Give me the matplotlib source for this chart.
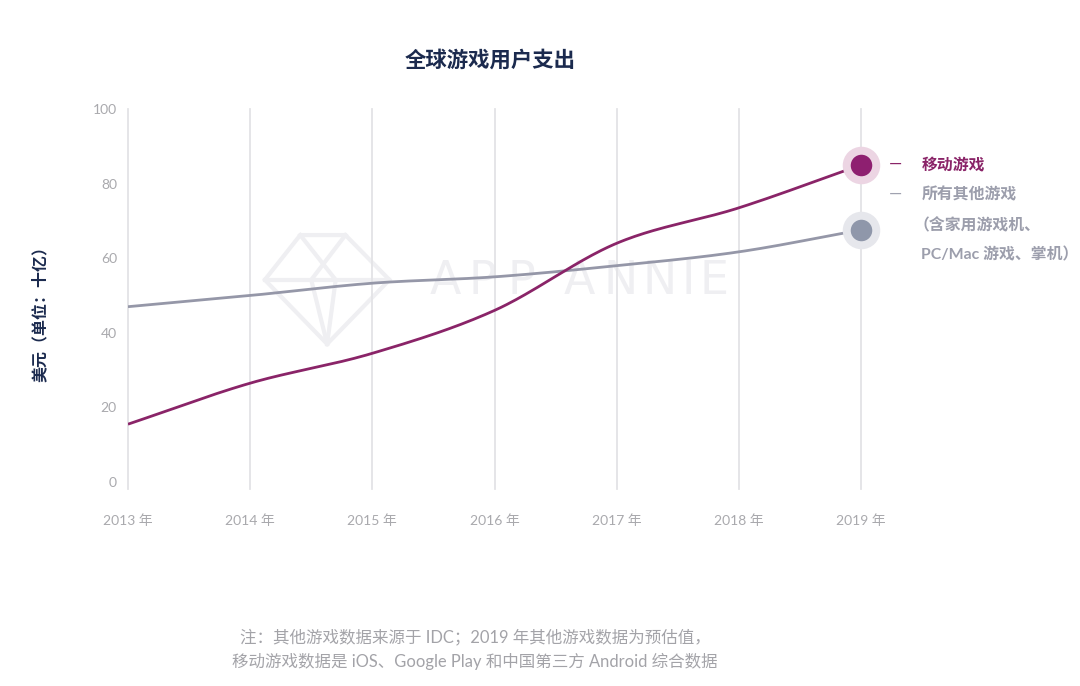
import numpy as np
import matplotlib
matplotlib.use("Agg")
import matplotlib.pyplot as plt
from matplotlib.patches import Polygon

plt.rcParams['font.family'] = ['Lato', 'Noto Sans CJK SC', 'DejaVu Sans']

years = [2013, 2014, 2015, 2016, 2017, 2018, 2019]
year_labels = ["2013 年", "2014 年", "2015 年", "2016 年", "2017 年", "2018 年", "2019 年"]
mobile = [15.5, 26.5, 34.5, 46.0, 64.0, 73.5, 85.0]
other = [47.0, 50.0, 53.3, 55.0, 58.0, 61.7, 67.6]
yticks = [0, 20, 40, 60, 80, 100]

PURPLE = "#8a2468"
GRAY_LINE = "#9597a8"
NAVY = "#1b2a4e"
TICK = "#a9a9ad"
WM = "#efeff2"


def smooth(x, y, n=40):
    """Catmull-Rom spline through the data points (drawing only)."""
    x = np.asarray(x, float)
    y = np.asarray(y, float)
    px = np.concatenate([[2 * x[0] - x[1]], x, [2 * x[-1] - x[-2]]])
    py = np.concatenate([[2 * y[0] - y[1]], y, [2 * y[-1] - y[-2]]])
    xs, ys = [], []
    for i in range(1, len(px) - 2):
        t = np.linspace(0, 1, n, endpoint=(i == len(px) - 3))
        for arr, out in ((px, xs), (py, ys)):
            p0, p1, p2, p3 = arr[i - 1], arr[i], arr[i + 1], arr[i + 2]
            out.append(0.5 * ((2 * p1) + (-p0 + p2) * t + (2 * p0 - 5 * p1 + 4 * p2 - p3) * t ** 2
                              + (-p0 + 3 * p1 - 3 * p2 + p3) * t ** 3))
    return np.concatenate(xs), np.concatenate(ys)


fig = plt.figure(figsize=(10.8, 6.86), dpi=100)
fig.patch.set_facecolor("white")
ax = fig.add_axes([128 / 1080, 1 - 482 / 686, (861 - 128) / 1080, (482 - 109) / 686])
ax.set_xlim(years[0], years[-1])
ax.set_ylim(0, 100)

for s in ax.spines.values():
    s.set_visible(False)

# vertical grid lines
for yr in years:
    ax.plot([yr, yr], [-2, 100], color="#e3e3e6", lw=1.3, zorder=1, clip_on=False)

# watermark (decorative), letter-spaced
wx = 2015.47
for ch in "APP ANNIE":
    if ch == " ":
        wx += 0.14
        continue
    ax.text(wx, 53.8, ch, fontsize=33, color=WM, ha="left", va="center",
            family=['DejaVu Sans'], zorder=0.5)
    wx += 0.32 if ch != "I" else 0.15
dia = Polygon([[2014.41, 66.2], [2014.78, 66.2], [2015.14, 54.2], [2014.63, 37.0], [2014.12, 54.2]],
              closed=True, fill=False, edgecolor=WM, lw=3, zorder=0.5)
ax.add_patch(dia)
ax.plot([2014.12, 2015.14], [54.2, 54.2], color=WM, lw=3, zorder=0.5)
ax.plot([2014.41, 2014.7, 2014.63], [66.2, 54.2, 37.0], color=WM, lw=3, zorder=0.5)
ax.plot([2014.78, 2014.5, 2014.63], [66.2, 54.2, 37.0], color=WM, lw=3, zorder=0.5)

xo, yo = smooth(years, other)
ax.plot(xo, yo, color=GRAY_LINE, lw=2.0, zorder=3, solid_capstyle="butt")
xm, ym = smooth(years, mobile)
ax.plot(xm, ym, color=PURPLE, lw=2.0, zorder=4, solid_capstyle="butt")

# end markers with halo
ax.plot(years[-1], mobile[-1], "o", ms=27, color="#ecd5e3", mec="none", zorder=5, clip_on=False)
ax.plot(years[-1], mobile[-1], "o", ms=15.5, color="#8e1f70", mec="none", zorder=6, clip_on=False)
ax.plot(years[-1], other[-1], "o", ms=27, color="#e6e7ec", mec="none", zorder=5, clip_on=False)
ax.plot(years[-1], other[-1], "o", ms=15.5, color="#8f97aa", mec="none", zorder=6, clip_on=False)

ax.set_yticks(yticks)
ax.set_yticklabels([str(v) for v in yticks])
ax.set_xticks(years)
ax.set_xticklabels(year_labels)
ax.tick_params(axis="both", length=0, colors=TICK, labelsize=10)
ax.tick_params(axis="y", pad=8)
ax.tick_params(axis="x", pad=23)

# titles
fig.text(490 / 1080, 1 - 60 / 686, "全球游戏用户支出", ha="center", va="center",
         fontsize=15.4, fontweight="bold", color=NAVY, family=['Noto Sans CJK SC'])
fig.text(40 / 1080, 1 - 310 / 686, "美元（单位：十亿）", ha="center", va="center", rotation=90,
         fontsize=11.5, fontweight="bold", color=NAVY, family=['Noto Sans CJK SC'])

# legend
LS = 11.4
fig.text(889 / 1080, 1 - 164 / 686, "—", ha="left", va="center", fontsize=12, color=PURPLE)
fig.text(922 / 1080, 1 - 164 / 686, "移动游戏", ha="left", va="center", fontsize=LS,
         fontweight="bold", color=PURPLE, family=['Noto Sans CJK SC'])
fig.text(889 / 1080, 1 - 194 / 686, "—", ha="left", va="center", fontsize=12, color="#a0a2b0")
fig.text(922 / 1080, 1 - 194 / 686, "所有其他游戏", ha="left", va="center", fontsize=LS,
         fontweight="bold", color="#9c9eac", family=['Noto Sans CJK SC'])
fig.text(914 / 1080, 1 - 225 / 686, "（含家用游戏机、", ha="left", va="center", fontsize=LS,
         fontweight="bold", color="#9c9eac", family=['Noto Sans CJK SC'])
fig.text(921 / 1080, 1 - 255 / 686, "PC/Mac 游戏、掌机）", ha="left", va="center", fontsize=LS,
         fontweight="bold", color="#9c9eac", family=['Lato', 'Noto Sans CJK SC'])

# footnote
fig.text(475 / 1080, 1 - 637 / 686, "注：其他游戏数据来源于 IDC；2019 年其他游戏数据为预估值，",
         ha="center", va="center", fontsize=11.9, color="#a3a3a8", family=['Lato', 'Noto Sans CJK SC'])
fig.text(475 / 1080, 1 - 661 / 686, "移动游戏数据是 iOS、Google Play 和中国第三方 Android 综合数据",
         ha="center", va="center", fontsize=11.9, color="#a3a3a8", family=['Lato', 'Noto Sans CJK SC'])

fig.savefig("out.png", dpi=100, facecolor="white")
